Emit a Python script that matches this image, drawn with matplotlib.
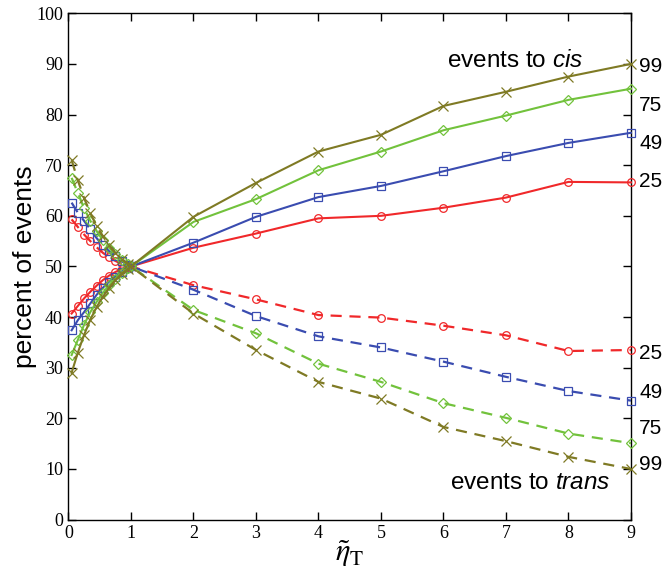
import matplotlib
matplotlib.use("Agg")
import matplotlib.pyplot as plt

# x positions (eta tilde T)
x_vals = [0.05, 0.15, 0.25, 0.35, 0.45, 0.55, 0.65, 0.75, 0.85, 0.95, 1.0,
          2, 3, 4, 5, 6, 7, 8, 9]

series_labels = ["25", "49", "75", "99"]

# events to cis (solid)
cis_25 = [40.7, 42.2, 43.7, 45.0, 46.2, 47.3, 48.2, 48.9, 49.5, 49.9, 50.0,
          53.7, 56.5, 59.5, 60.0, 61.6, 63.6, 66.7, 66.6]
cis_49 = [37.4, 39.4, 41.0, 42.7, 44.4, 45.8, 47.0, 48.0, 49.0, 49.7, 50.0,
          54.7, 59.8, 63.7, 65.9, 68.8, 71.8, 74.4, 76.4]
cis_75 = [32.5, 35.5, 38.5, 41.0, 43.0, 44.8, 46.3, 47.6, 48.8, 49.6, 50.0,
          58.8, 63.3, 69.0, 72.7, 76.9, 79.8, 82.9, 85.1]
cis_99 = [29.0, 33.0, 36.5, 39.5, 42.0, 44.0, 45.8, 47.3, 48.6, 49.5, 50.0,
          59.8, 66.5, 72.7, 76.0, 81.7, 84.5, 87.5, 90.0]

# events to trans (dashed)
trans_25 = [59.3, 57.8, 56.3, 55.0, 53.8, 52.7, 51.8, 51.1, 50.5, 50.1, 50.0,
            46.3, 43.5, 40.4, 39.9, 38.3, 36.4, 33.3, 33.5]
trans_49 = [62.6, 60.6, 59.0, 57.3, 55.6, 54.2, 53.0, 52.0, 51.0, 50.3, 50.0,
            45.4, 40.2, 36.2, 34.0, 31.2, 28.2, 25.4, 23.5]
trans_75 = [67.5, 64.5, 61.5, 59.0, 57.0, 55.2, 53.7, 52.4, 51.2, 50.4, 50.0,
            41.4, 36.8, 30.8, 27.2, 23.0, 20.1, 17.0, 15.1]
trans_99 = [71.0, 67.0, 63.5, 60.5, 58.0, 56.0, 54.2, 52.7, 51.4, 50.5, 50.0,
            40.7, 33.5, 27.2, 23.9, 18.3, 15.5, 12.4, 10.0]

x_ticks = list(range(0, 10))
y_ticks = list(range(0, 101, 10))

colors = ["#f0282a", "#3a4cb0", "#72c23c", "#7f7a24"]
markers = ["o", "s", "D", "x"]
msizes = [5.5, 5.5, 5, 6.5]

plt.rcParams["font.family"] = ["Liberation Serif", "DejaVu Serif"]
plt.rcParams["mathtext.fontset"] = "custom"
plt.rcParams["mathtext.rm"] = "Liberation Sans"
plt.rcParams["mathtext.it"] = "Liberation Sans:italic"

fig = plt.figure(figsize=(6.63, 5.75), dpi=100)
ax = fig.add_axes([0.1033, 0.0963, 0.8484, 0.8806])

cis_all = [cis_25, cis_49, cis_75, cis_99]
trans_all = [trans_25, trans_49, trans_75, trans_99]

for c, t, col, m, ms in zip(cis_all, trans_all, colors, markers, msizes):
    ax.plot(x_vals, c, color=col, lw=1.5, marker=m, ms=ms, mfc="none",
            mec=col, mew=0.9, clip_on=False, zorder=3)
    ax.plot(x_vals, t, color=col, lw=1.6, ls=(0, (5, 3.5)), marker=m, ms=ms,
            mfc="none", mec=col, mew=0.9, clip_on=False, zorder=3)

ax.set_xlim(0, 9)
ax.set_ylim(0, 100)
ax.set_xticks(x_ticks)
ax.set_yticks(y_ticks)
ax.tick_params(direction="in", length=6, width=1, top=True, right=True,
               labelsize=13, pad=4)
for s in ax.spines.values():
    s.set_linewidth(1.0)

sans = ["Liberation Sans", "DejaVu Sans"]
ax.set_ylabel("percent of events", fontsize=19, family=sans)
ax.yaxis.set_label_coords(-0.056, 0.5)
ax.set_xlabel(r"$\tilde{\eta}_{\mathrm{T}}$", fontsize=22, labelpad=-3,
              math_fontfamily="stix")

ax.text(6.05, 89.3, r"events to $\mathit{cis}$", fontsize=17.5, family=sans,
        ha="left", va="baseline")
ax.text(6.1, 6.0, r"events to $\mathit{trans}$", fontsize=17.5, family=sans,
        ha="left", va="baseline")

right_upper = [89.4, 81.8, 74.3, 66.7]
right_lower = [32.8, 25.2, 18.0, 10.8]
for lbl, yu in zip(series_labels[::-1], right_upper):
    ax.text(9.13, yu, lbl, fontsize=15, family=sans, ha="left",
            va="center", clip_on=False)
for lbl, yl in zip(series_labels, right_lower):
    ax.text(9.13, yl, lbl, fontsize=15, family=sans, ha="left",
            va="center", clip_on=False)

fig.savefig("out.png", dpi=100)
